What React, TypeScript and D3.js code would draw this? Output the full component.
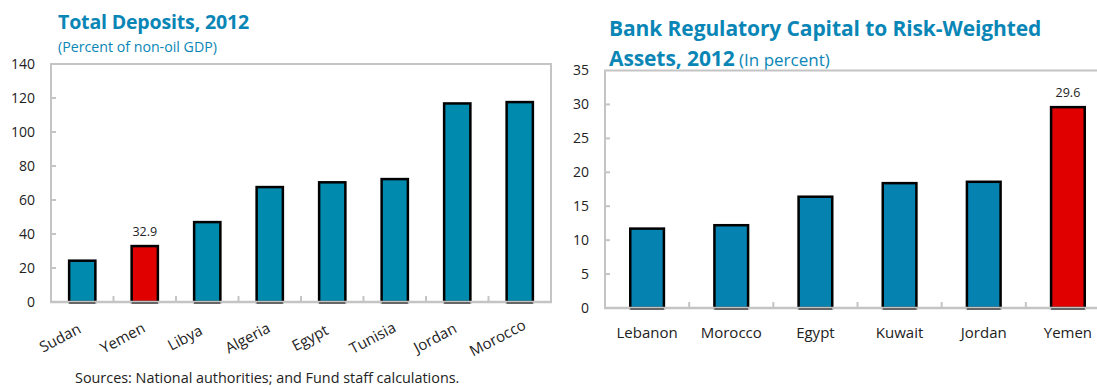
import React from "react";
import * as d3 from "d3";

const depCategories = ["Sudan", "Yemen", "Libya", "Algeria", "Egypt", "Tunisia", "Jordan", "Morocco"];
const depValues = [24.3, 32.9, 47.0, 67.6, 70.4, 72.3, 116.8, 117.6];
const depTicks = [0, 20, 40, 60, 80, 100, 120, 140];

const capCategories = ["Lebanon", "Morocco", "Egypt", "Kuwait", "Jordan", "Yemen"];
const capValues = [11.7, 12.2, 16.4, 18.4, 18.6, 29.6];
const capTicks = [0, 5, 10, 15, 20, 25, 30, 35];

const highlight = "Yemen";
const FONT = "'Open Sans', 'Noto Sans', sans-serif";
const TITLE_COLOR = "#0a86b6";
const AXIS_GRAY = "#c4c4c4";
const TEXT = "#222";

type PanelProps = {
  cats: string[];
  vals: number[];
  ticks: number[];
  x0: number;
  x1: number;
  yTop: number;
  yBottom: number;
  barFrac: number;
  fill: string;
  rotate: boolean;
  frameRight: boolean;
  labelFmt: (v: number) => string;
};

function Panel(p: PanelProps) {
  const x = d3.scaleBand<string>().domain(p.cats).range([p.x0, p.x1]).paddingInner(0).paddingOuter(0);
  const y = d3.scaleLinear().domain([0, p.ticks[p.ticks.length - 1]]).range([p.yBottom, p.yTop]);
  const bw = x.bandwidth() * p.barFrac;
  return (
    <g>
      <line x1={p.x0} x2={p.x0} y1={p.yTop} y2={p.yBottom} stroke={AXIS_GRAY} strokeWidth={2} />
      <line x1={p.x0 - 1} x2={p.x1 + 1} y1={p.yTop} y2={p.yTop} stroke={AXIS_GRAY} strokeWidth={2} />
      {p.frameRight && (
        <line x1={p.x1} x2={p.x1} y1={p.yTop} y2={p.yBottom} stroke={AXIS_GRAY} strokeWidth={2} />
      )}
      {p.ticks.map((t) => (
        <g key={"t" + t}>
          {t !== 0 && t !== p.ticks[p.ticks.length - 1] && (
            <line x1={p.x0} x2={p.x0 + 5} y1={y(t)} y2={y(t)} stroke={AXIS_GRAY} strokeWidth={2} />
          )}
          <text
            x={p.x0 - 16}
            y={y(t)}
            dy="0.35em"
            textAnchor="end"
            fontFamily={FONT}
            fontSize={14}
            fill={TEXT}
          >
            {t}
          </text>
        </g>
      ))}
      {p.cats.map((c, i) => {
        const cx = (x(c) as number) + x.bandwidth() / 2;
        const v = p.vals[i];
        const isH = c === highlight;
        return (
          <g key={c}>
            <rect
              x={cx - bw / 2}
              y={y(v)}
              width={bw}
              height={y(0) - y(v)}
              fill={isH ? "#e00000" : p.fill}
              stroke="#000"
              strokeWidth={2.5}
            />
            {isH && (
              <text
                x={cx}
                y={y(v) - 10}
                textAnchor="middle"
                fontFamily={FONT}
                fontSize={12.5}
                fill={TEXT}
              >
                {p.labelFmt(v)}
              </text>
            )}
          </g>
        );
      })}
      {p.cats.slice(1).map((c) => (
        <line
          key={"ct" + c}
          x1={x(c) as number}
          x2={x(c) as number}
          y1={p.yBottom}
          y2={p.yBottom - 6}
          stroke={AXIS_GRAY}
          strokeWidth={2}
        />
      ))}
      <line x1={p.x0 - 1} x2={p.x1 + 1} y1={p.yBottom} y2={p.yBottom} stroke={AXIS_GRAY} strokeWidth={2.5} />
      {p.cats.map((c) => {
        const cx = (x(c) as number) + x.bandwidth() / 2;
        return (
          <line
            key={"bb" + c}
            x1={cx - bw / 2}
            x2={cx + bw / 2}
            y1={p.yBottom + 1}
            y2={p.yBottom + 1}
            stroke="#666"
            strokeWidth={2}
          />
        );
      })}
      {p.cats.map((c) => {
        const cx = (x(c) as number) + x.bandwidth() / 2;
        if (p.rotate) {
          return (
            <text
              key={"l" + c}
              transform={`translate(${cx - 19.7},${p.yBottom + 40.5}) rotate(-28)`}
              textAnchor="middle"
              fontFamily={FONT}
              fontSize={15}
              fill={TEXT}
            >
              {c}
            </text>
          );
        }
        return (
          <text
            key={"l" + c}
            x={cx}
            y={p.yBottom + 30}
            textAnchor="middle"
            fontFamily={FONT}
            fontSize={15}
            fill={TEXT}
          >
            {c}
          </text>
        );
      })}
    </g>
  );
}

export default function App() {
  return (
    <svg
      width={1097}
      height={387}
      style={{ position: "absolute", left: 0, top: 0, background: "#fff" }}
    >
      <rect width={1097} height={387} fill="#fff" />
      <text x={58} y={29} fontFamily={FONT} fontWeight={700} fontSize={19.6} fill={TITLE_COLOR} letterSpacing={-0.2}>
        Total Deposits, 2012
      </text>
      <text x={58} y={52} fontFamily={FONT} fontSize={14.2} fill={TITLE_COLOR}>
        (Percent of non-oil GDP)
      </text>
      <Panel
        cats={depCategories}
        vals={depValues}
        ticks={depTicks}
        x0={51}
        x1={551}
        yTop={64}
        yBottom={302}
        barFrac={0.42}
        fill="#008aad"
        rotate={true}
        frameRight={true}
        labelFmt={(v) => v.toFixed(1)}
      />
      <text x={609} y={36} fontFamily={FONT} fontWeight={700} fontSize={21} fill={TITLE_COLOR} letterSpacing={-0.1}>
        Bank Regulatory Capital to Risk-Weighted
      </text>
      <text x={609} y={66} fontFamily={FONT} fill={TITLE_COLOR}>
        <tspan fontWeight={700} fontSize={21} letterSpacing={-0.1}>
          Assets, 2012
        </tspan>
        <tspan fontSize={17}> (In percent)</tspan>
      </text>
      <Panel
        cats={capCategories}
        vals={capValues}
        ticks={capTicks}
        x0={605}
        x1={1110}
        yTop={70.5}
        yBottom={308}
        barFrac={0.4}
        fill="#0582b0"
        rotate={false}
        frameRight={false}
        labelFmt={(v) => v.toFixed(1)}
      />
      <text x={75} y={383} fontFamily={FONT} fontSize={14.4} fill={TEXT}>
        Sources: National authorities; and Fund staff calculations.
      </text>
    </svg>
  );
}
